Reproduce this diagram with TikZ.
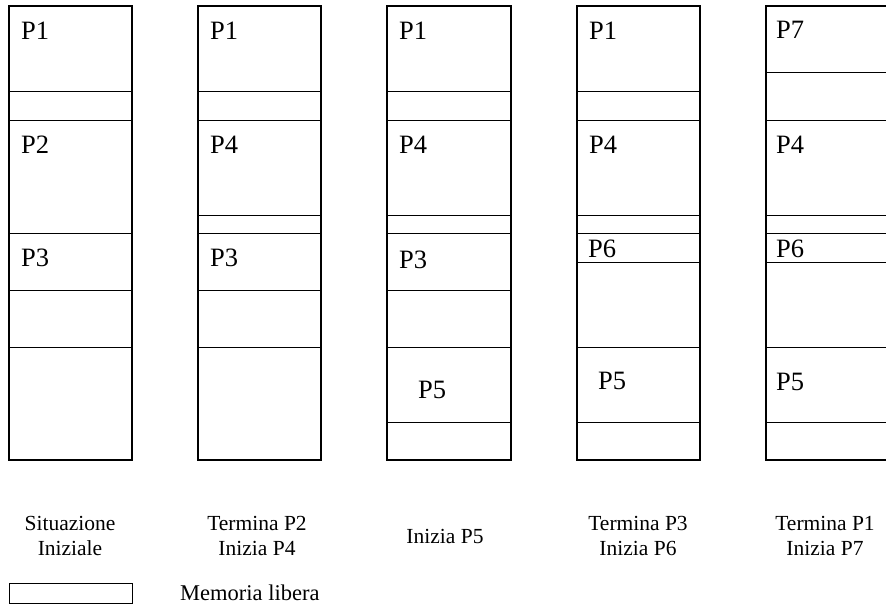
\documentclass[tikz,border=0pt]{standalone}
\usepackage{fontspec}
\setmainfont{Liberation Serif}
\tikzset{
  seg/.style={draw=black, line width=0.9pt},
  outer/.style={draw=black, line width=1.4pt},
  plabel/.style={anchor=base west, inner sep=0pt, font=\fontsize{26.5}{30}\selectfont},
  caption/.style={anchor=base, inner sep=0pt, font=\fontsize{21.5}{25}\selectfont},
}
\begin{document}
\begin{tikzpicture}[x=1pt, y=-1pt]
\useasboundingbox (0,0) rectangle (886,605);
\clip (0,0) rectangle (886,605);

% memory columns: segment boundaries (top to bottom), then the outer frame
% column 1: situazione iniziale
\foreach \a/\b in {6/91, 91/120, 120/233, 233/290, 290/347, 347/460}
  \draw[seg] (9,\a) rectangle (132,\b);
\draw[outer] (9,6) rectangle (132,460);
% column 2
\foreach \a/\b in {6/91, 91/120, 120/215, 215/233, 233/290, 290/347, 347/460}
  \draw[seg] (198,\a) rectangle (321,\b);
\draw[outer] (198,6) rectangle (321,460);
% column 3
\foreach \a/\b in {6/91, 91/120, 120/215, 215/233, 233/290, 290/347, 347/422, 422/460}
  \draw[seg] (387,\a) rectangle (511,\b);
\draw[outer] (387,6) rectangle (511,460);
% column 4
\foreach \a/\b in {6/91, 91/120, 120/215, 215/233, 233/262, 262/347, 347/422, 422/460}
  \draw[seg] (577,\a) rectangle (700,\b);
\draw[outer] (577,6) rectangle (700,460);
% column 5 (runs past the right edge)
\foreach \a/\b in {6/72, 72/120, 120/215, 215/233, 233/262, 262/347, 347/422, 422/460}
  \draw[seg] (766,\a) rectangle (889,\b);
\draw[outer] (766,6) rectangle (889,460);

% process labels
\node[plabel] (c1p1) at (21,39) {P1};
\node[plabel] (c1p2) at (21,153) {P2};
\node[plabel] (c1p3) at (21,266) {P3};

\node[plabel] (c2p1) at (210,39) {P1};
\node[plabel] (c2p4) at (210,153) {P4};
\node[plabel] (c2p3) at (210,266) {P3};

\node[plabel] (c3p1) at (399,39) {P1};
\node[plabel] (c3p4) at (399,153) {P4};
\node[plabel] (c3p3) at (399,268) {P3};
\node[plabel] (c3p5) at (418,398) {P5};

\node[plabel] (c4p1) at (589,39) {P1};
\node[plabel] (c4p4) at (589,153) {P4};
\node[plabel] (c4p6) at (588,257) {P6};
\node[plabel] (c4p5) at (598,389) {P5};

\node[plabel] (c5p7) at (776,38) {P7};
\node[plabel] (c5p4) at (776,153) {P4};
\node[plabel] (c5p6) at (776,257) {P6};
\node[plabel] (c5p5) at (776,390) {P5};

% captions under the columns
\node[caption] (cap1a) at (70,530.5) {Situazione};
\node[caption] (cap1b) at (70,555.5) {Iniziale};
\node[caption] (cap2a) at (257,530.5) {Termina P2};
\node[caption] (cap2b) at (257,555.5) {Inizia P4};
\node[caption] (cap3)  at (445,543) {Inizia P5};
\node[caption] (cap4a) at (638,530.5) {Termina P3};
\node[caption] (cap4b) at (638,555.5) {Inizia P6};
\node[caption] (cap5a) at (825,530.5) {Termina P1};
\node[caption] (cap5b) at (825,555.5) {Inizia P7};

% legend
\draw[seg] (9,583) rectangle (132,603);
\node[caption, anchor=base west, font=\fontsize{22.5}{26}\selectfont] (legtext) at (180,600) {Memoria libera};
\end{tikzpicture}
\end{document}
